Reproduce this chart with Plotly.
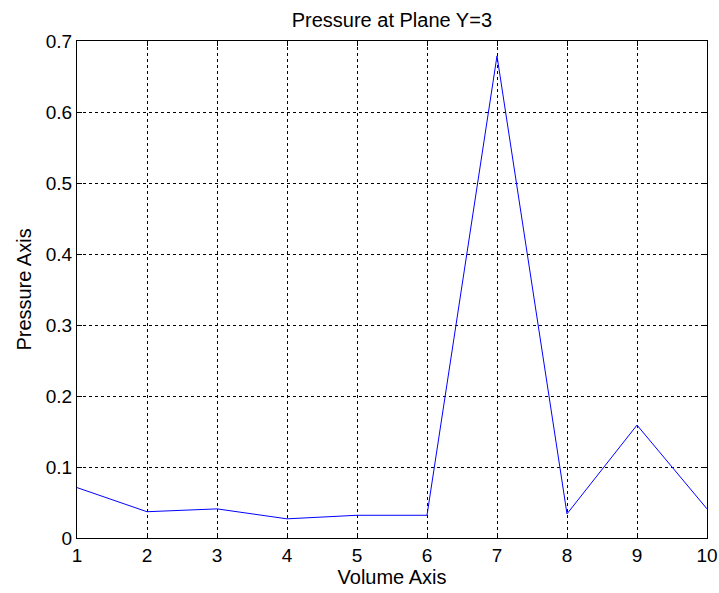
import plotly.graph_objects as go

# Volume index and pressure readings at plane Y=3
volume = [1, 2, 3, 4, 5, 6, 7, 8, 9, 10]
pressure = [0.071, 0.037, 0.041, 0.027, 0.032, 0.032, 0.679, 0.034, 0.159, 0.041]

x_ticks = [1, 2, 3, 4, 5, 6, 7, 8, 9, 10]
y_ticks = [0, 0.1, 0.2, 0.3, 0.4, 0.5, 0.6, 0.7]
y_tick_text = ["0", "0.1", "0.2", "0.3", "0.4", "0.5", "0.6", "0.7"]

font_family = "Liberation Sans, Arial, sans-serif"

fig = go.Figure()
fig.add_trace(go.Scatter(
    x=volume, y=pressure, mode="lines",
    line=dict(color="#0000ff", width=1),
    showlegend=False,
))

axis_common = dict(
    showline=True, linecolor="black", linewidth=1, mirror="ticks",
    ticks="inside", ticklen=5, tickcolor="black",
    showgrid=True, gridcolor="black", griddash="dot", gridwidth=1,
    zeroline=False, automargin=False,
    tickfont=dict(family=font_family, size=19, color="black"),
)

fig.update_xaxes(
    range=[1, 10], tickvals=x_ticks, ticktext=[str(v) for v in x_ticks],
    title=dict(text="Volume Axis", font=dict(family=font_family, size=20, color="black"), standoff=4),
    **axis_common,
)
fig.update_yaxes(
    range=[0, 0.7], tickvals=y_ticks, ticktext=y_tick_text,
    title=dict(text="Pressure Axis", font=dict(family=font_family, size=20, color="black"), standoff=8),
    **axis_common,
)

fig.update_layout(
    width=719, height=593,
    margin=dict(l=77, r=12, t=41, b=55),
    paper_bgcolor="white", plot_bgcolor="white",
    title=dict(text="Pressure at Plane Y=3", x=0.545, xanchor="center", y=0.966, yanchor="middle",
               font=dict(family=font_family, size=20, color="black")),
)

fig.write_html("out.html")
